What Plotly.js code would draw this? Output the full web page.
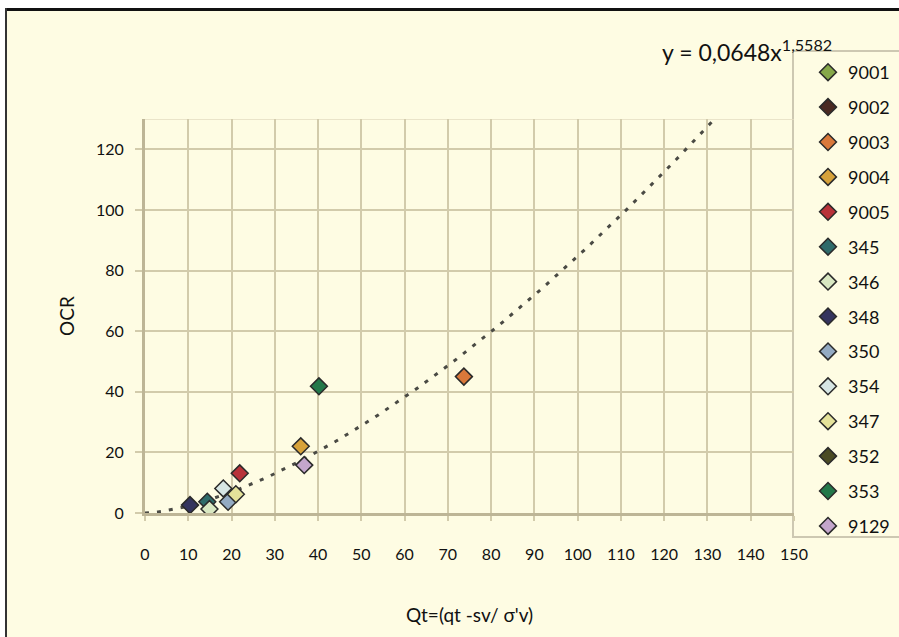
<!DOCTYPE html>
<html>
<head>
<meta charset="utf-8">
<script src="https://cdn.plot.ly/plotly-3.0.1.min.js"></script>
<style>
html,body{margin:0;padding:0;background:#ffffff;}
#chart{width:899px;height:637px;}
</style>
</head>
<body>
<div id="chart"></div>
<script>
// ---- data ----
const seriesNames = ["9001","9002","9003","9004","9005","345","346","348","350","354","347","352","353","9129"];
const seriesColors = ["#86a84a","#4a2a22","#d9783a","#d7a23a","#b8323a","#2f6b6a","#d9e8c2","#34345e","#93aac2","#d7e6e4","#e4e29a","#4b4b24","#23784a","#c4a6cc"];
const xVals = [
  [], [], [73.7], [36.0], [21.9], [14.4], [14.9], [10.4], [19.2], [18.1], [21.0], [], [40.2], [36.8]
];
const yVals = [
  [], [], [45.0], [22.0], [13.1], [3.7], [1.3], [2.6], [3.7], [8.1], [6.2], [], [41.8], [15.8]
];
// power trendline shown on the chart: y = 0,0648 x^1,5582 (drawn from x = 0 to 131)
const trendCoef = 0.0648;
const trendExp = 1.5582;
const trendXMax = 131;
const xTicks = [0,10,20,30,40,50,60,70,80,90,100,110,120,130,140,150];
const yTicks = [0,20,40,60,80,100,120];

// ---- geometry helpers (pixel -> paper) ----
const L = 145, R = 105, T = 119, B = 124, W = 899, H = 637;
const pw = W - L - R, ph = H - T - B;
const px = p => (p - L) / pw;
const py = p => (H - B - p) / ph;

const trendX = [], trendY = [];
for (let i = 0; i <= trendXMax; i++) { trendX.push(i); trendY.push(trendCoef * Math.pow(i, trendExp)); }

const FONT = "Lato, 'DejaVu Sans', sans-serif";
const BG = "#fefce3";

const traces = [{
  x: trendX, y: trendY, type: "scatter", mode: "lines",
  line: {color: "#4a4a44", width: 3, dash: "4px,8px"},
  showlegend: false, hoverinfo: "skip"
}];
seriesNames.forEach((n, i) => {
  traces.push({
    x: xVals[i].length ? xVals[i] : [null],
    y: yVals[i].length ? yVals[i] : [null],
    type: "scatter", mode: "markers", name: n, legendgroup: n,
    marker: {symbol: "diamond", size: 13, color: seriesColors[i], line: {color: "#2a2a2a", width: 1.5}}
  });
});

const layout = {
  width: W, height: H,
  margin: {l: L, r: R, t: T, b: B, pad: 0, autoexpand: false},
  paper_bgcolor: BG, plot_bgcolor: BG,
  font: {family: FONT, color: "#111111", size: 16},
  showlegend: true,
  legend: {
    x: px(808), xanchor: "left", y: py(54), yanchor: "top",
    bgcolor: "rgba(0,0,0,0)", borderwidth: 0,
    font: {family: FONT, size: 18, color: "#111111"},
    tracegroupgap: 8.5, traceorder: "grouped", itemsizing: "trace",
    maxheight: 620
  },
  xaxis: {
    range: [0, 150], tickvals: xTicks, ticktext: xTicks.map(String),
    showgrid: true, gridcolor: "#d2cbab", gridwidth: 2,
    showline: true, linecolor: "#bdb596", linewidth: 3,
    ticks: "outside", ticklen: 5, tickcolor: "#d2cbab", tickwidth: 2,
    ticklabelstandoff: 20, zeroline: false,
    tickfont: {family: FONT, size: 16},
    title: {text: "Qt=(qt -sv/ σ'v)", font: {family: FONT, size: 19}, standoff: 47}
  },
  yaxis: {
    range: [0, 130], tickvals: yTicks, ticktext: yTicks.map(String),
    showgrid: true, gridcolor: "#d2cbab", gridwidth: 2,
    showline: true, linecolor: "#bdb596", linewidth: 3,
    ticks: "outside", ticklen: 7, tickcolor: "#d2cbab", tickwidth: 2,
    ticklabelstandoff: 8, zeroline: false,
    tickfont: {family: FONT, size: 16},
    title: {text: "OCR", font: {family: FONT, size: 19}, standoff: 17}
  },
  annotations: [{
    xref: "paper", yref: "paper", x: px(834), y: py(50), xanchor: "right", yanchor: "middle",
    text: "y = 0,0648x<sup>1,5582</sup>", showarrow: false,
    font: {family: FONT, size: 23, color: "#111111"}
  }],
  shapes: [
    // legend box
    {type: "rect", xref: "paper", yref: "paper", x0: px(793), x1: px(960), y0: py(537), y1: py(51),
     line: {color: "#cdc8b2", width: 2}, fillcolor: BG, layer: "below"},
    // faint top border of plot area
    {type: "line", xref: "x", yref: "y", x0: 0, x1: 150, y0: 130, y1: 130,
     line: {color: "#e3dcc0", width: 1.5}, layer: "below"},
    // outer white margins and dark frame
    {type: "rect", xref: "paper", yref: "paper", x0: px(-20), x1: px(920), y0: py(8), y1: py(-20),
     line: {width: 0}, fillcolor: "#ffffff", layer: "above"},
    {type: "rect", xref: "paper", yref: "paper", x0: px(-20), x1: px(5), y0: py(660), y1: py(-20),
     line: {width: 0}, fillcolor: "#ffffff", layer: "above"},
    {type: "rect", xref: "paper", yref: "paper", x0: px(5), x1: px(920), y0: py(11), y1: py(8),
     line: {width: 0}, fillcolor: "#111111", layer: "above"},
    {type: "rect", xref: "paper", yref: "paper", x0: px(5), x1: px(7), y0: py(660), y1: py(8),
     line: {width: 0}, fillcolor: "#333333", layer: "above"}
  ]
};

Plotly.newPlot("chart", traces, layout, {staticPlot: true, displayModeBar: false});
</script>
</body>
</html>
